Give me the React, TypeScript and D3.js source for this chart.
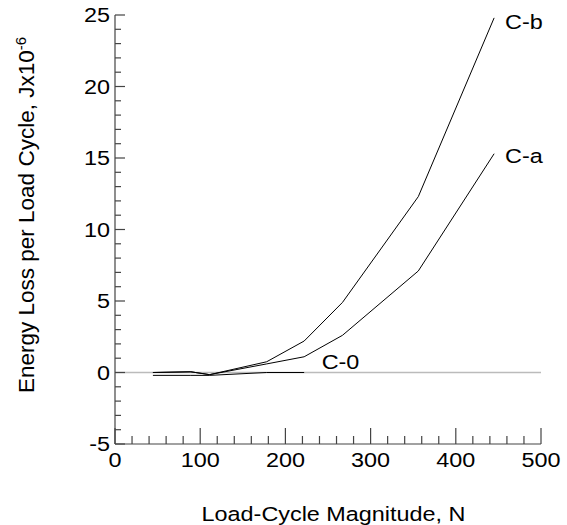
import React from "react";
import * as d3 from "d3";

const loads = [44.5, 89, 111, 178, 222, 267, 356, 445];
const seriesCb = [0, 0.05, -0.15, 0.75, 2.2, 4.9, 12.3, 24.8];
const seriesCa = [0, 0.05, -0.15, 0.6, 1.1, 2.6, 7.1, 15.3];
const loadsC0 = [44.5, 89, 111, 178, 222];
const seriesC0 = [-0.2, -0.2, -0.2, 0, 0];
const seriesNames = ["C-b", "C-a", "C-0"];
const xTicks = [0, 100, 200, 300, 400, 500];
const yTicks = [-5, 0, 5, 10, 15, 20, 25];

const W = 567;
const H = 525;
const FONT = "'Liberation Sans', Arial, sans-serif";
const FS = 19.5;
const SX = 1.2;

export default function App() {
  const x = d3.scaleLinear().domain([0, 500]).range([115, 541]);
  const y = d3.scaleLinear().domain([-5, 25]).range([444, 15]);
  const line = d3
    .line<[number, number]>()
    .x((d) => x(d[0]))
    .y((d) => y(d[1]));

  const cb = loads.map((l, i) => [l, seriesCb[i]] as [number, number]);
  const ca = loads.map((l, i) => [l, seriesCa[i]] as [number, number]);
  const c0 = loadsC0.map((l, i) => [l, seriesC0[i]] as [number, number]);

  const xMinor = d3.range(0, 501, 20);
  const yMinor = d3.range(-5, 26, 1);
  const axisColor = "#444";

  const hText = (
    tx: number,
    ty: number,
    s: string,
    anchor: string,
    key?: string
  ) => (
    <g key={key} transform={`translate(${tx},${ty}) scale(${SX},1)`}>
      <text
        x={0}
        y={0}
        textAnchor={anchor as any}
        fontFamily={FONT}
        fontSize={FS}
        fill="#000"
      >
        {s}
      </text>
    </g>
  );

  return (
    <svg
      width={W}
      height={H}
      style={{ position: "absolute", left: 0, top: 0, background: "#fff" }}
    >
      {/* zero line */}
      <line
        x1={x(0)}
        x2={x(500)}
        y1={y(0)}
        y2={y(0)}
        stroke="#bbb"
        strokeWidth={1.5}
      />
      {/* axes */}
      <line x1={x(0)} x2={x(0)} y1={y(-5)} y2={y(25)} stroke={axisColor} strokeWidth={1.2} />
      <line x1={x(0)} x2={x(500)} y1={y(-5)} y2={y(-5)} stroke={axisColor} strokeWidth={1.2} />
      {xMinor.map((v) => {
        const major = v % 100 === 0;
        return (
          <line
            key={"xt" + v}
            x1={x(v)}
            x2={x(v)}
            y1={y(-5)}
            y2={y(-5) - (major ? 16 : 8)}
            stroke={axisColor}
            strokeWidth={1.2}
          />
        );
      })}
      {yMinor.map((v) => {
        const major = v % 5 === 0;
        return (
          <line
            key={"yt" + v}
            x1={x(0)}
            x2={x(0) + (major ? 10 : 6)}
            y1={y(v)}
            y2={y(v)}
            stroke={axisColor}
            strokeWidth={1.2}
          />
        );
      })}
      {xTicks.map((v) => hText(x(v), 466.7, String(v), "middle", "xl" + v))}
      {yTicks.map((v) => hText(110, y(v) + 7, String(v), "end", "yl" + v))}
      {/* series */}
      <path d={line(cb) || ""} fill="none" stroke="#000" strokeWidth={1} />
      <path d={line(ca) || ""} fill="none" stroke="#000" strokeWidth={1} />
      <path d={line(c0) || ""} fill="none" stroke="#000" strokeWidth={1} />
      {hText(505, 29, seriesNames[0], "start")}
      {hText(505, 162.7, seriesNames[1], "start")}
      {hText(321.7, 369.3, seriesNames[2], "start")}
      {/* titles */}
      {hText(333.5, 521, "Load-Cycle Magnitude, N", "middle")}
      <g transform={`translate(34,215) rotate(-90)`}>
        <text
          x={0}
          y={0}
          textAnchor="middle"
          fontFamily={FONT}
          fontSize={22.5}
          fill="#000"
        >
          Energy Loss per Load Cycle, Jx10
          <tspan fontSize={15} dy={-8}>
            -6
          </tspan>
        </text>
      </g>
    </svg>
  );
}
